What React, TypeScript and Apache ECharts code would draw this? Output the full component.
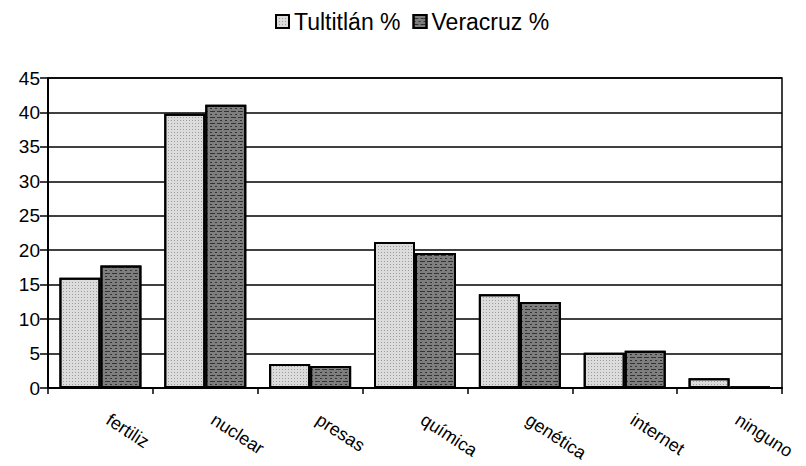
import React, { useEffect, useRef } from "react";
import * as echarts from "echarts";

const categories = ["fertiliz", "nuclear", "presas", "química", "genética", "internet", "ninguno"];
const tultitlan = [16, 39.8, 3.5, 21.2, 13.6, 5.1, 1.4];
const veracruz = [17.8, 41.1, 3.2, 19.6, 12.5, 5.4, 0.2];
const seriesNames = ["Tultitlán %", "Veracruz %"];

export default function App() {
  const ref = useRef<HTMLDivElement>(null);
  useEffect(() => {
    if (!ref.current) return;
    const chart = echarts.init(ref.current, null, { renderer: "svg" });
    const font = "'Liberation Sans', Arial, sans-serif";
    chart.setOption({
      animation: false,
      backgroundColor: "#fff",
      textStyle: { fontFamily: font, color: "#000" },
      legend: {
        left: 270,
        top: 5,
        icon: "rect",
        itemWidth: 13,
        itemHeight: 13,
        itemGap: 12,
        itemTextGap: 5,
        textStyle: { fontSize: 23, fontFamily: font, color: "#000" },
        data: seriesNames,
      },
      grid: {
        left: 48,
        right: 24,
        top: 78,
        bottom: 78,
        show: true,
        borderColor: "#000",
        borderWidth: 1.5,
        containLabel: false,
        outerBoundsMode: "none",
      },
      xAxis: {
        type: "category",
        data: categories,
        axisLine: { show: true, lineStyle: { color: "#000", width: 2 } },
        axisTick: { show: true, length: 6, lineStyle: { color: "#000", width: 1.5 } },
        axisLabel: {
          rotate: -33,
          margin: 25,
          padding: [0, 0, 0, 9],
          fontSize: 18,
          fontFamily: font,
          color: "#000",
        },
      },
      yAxis: {
        type: "value",
        min: 0,
        max: 45,
        interval: 5,
        axisLine: { show: true, lineStyle: { color: "#000", width: 2 } },
        axisTick: { show: true, length: 8, lineStyle: { color: "#000", width: 1.5 } },
        axisLabel: { fontSize: 19, margin: 8, fontFamily: font, color: "#000" },
        splitLine: { show: true, lineStyle: { color: "#000", width: 1.5 } },
      },
      series: [
        {
          name: seriesNames[0],
          type: "bar",
          data: tultitlan,
          barWidth: 41,
          barGap: "0%",
          itemStyle: {
            color: "#dcdcdc",
            borderColor: "#000",
            borderWidth: 2,
            decal: {
              symbol: "rect",
              symbolSize: 1,
              dashArrayX: [1, 2],
              dashArrayY: [1, 2],
              color: "rgba(80,80,80,0.45)",
            },
          },
        },
        {
          name: seriesNames[1],
          type: "bar",
          data: veracruz,
          barWidth: 41,
          itemStyle: {
            color: "#7e7e7e",
            borderColor: "#000",
            borderWidth: 2,
            decal: {
              symbol: "rect",
              symbolSize: 1,
              dashArrayX: [[5, 2], [2, 3]],
              dashArrayY: [1, 2],
              color: "rgba(10,10,10,0.65)",
            },
          },
        },
      ],
    });
    return () => chart.dispose();
  }, []);
  return (
    <div
      ref={ref}
      style={{ position: "fixed", left: 0, top: 0, width: 806, height: 466 }}
    />
  );
}
